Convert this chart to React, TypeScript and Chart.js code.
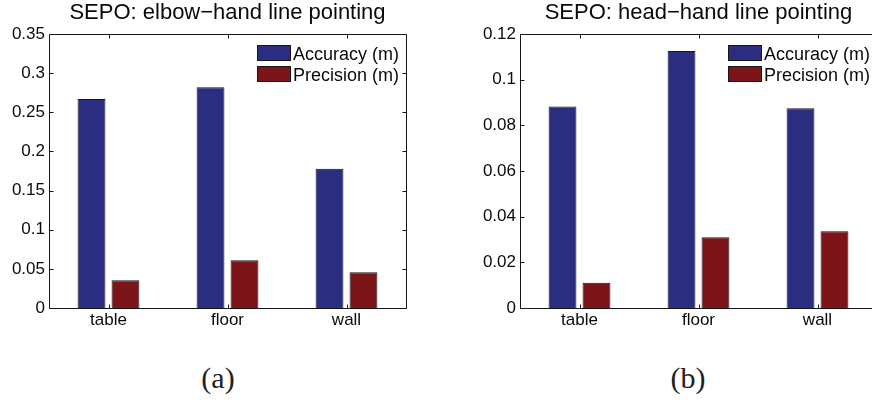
import { useEffect, useRef } from "react";
import { Chart, registerables } from "chart.js";

Chart.register(...registerables);

// Categories and series shared by both panels
const categories = ["table", "floor", "wall"];
const seriesNames = ["Accuracy (m)", "Precision (m)"];

// Panel (a): elbow-hand line pointing
const elbowTitle = "SEPO: elbow\u2212hand line pointing";
const elbowAccuracy = [0.267, 0.282, 0.178];
const elbowPrecision = [0.0355, 0.0609, 0.0456];
const elbowTicks = [0, 0.05, 0.1, 0.15, 0.2, 0.25, 0.3, 0.35];

// Panel (b): head-hand line pointing
const headTitle = "SEPO: head\u2212hand line pointing";
const headAccuracy = [0.0882, 0.1126, 0.0875];
const headPrecision = [0.0111, 0.031, 0.0336];
const headTicks = [0, 0.02, 0.04, 0.06, 0.08, 0.1, 0.12];

const BLUE = "#2b2d80";
const RED = "#7c1517";
const EDGE = "#161616";
const INK = "#0a0a0a";
const SANS = "'Liberation Sans', Arial, Helvetica, sans-serif";

// Boxed axes with inward ticks on all four sides, plus an in-axes legend
const framePlugin = {
  id: "matlabFrame",
  afterDatasetsDraw(chart: any) {
    const { ctx, chartArea: a, scales } = chart;
    const L = Math.round(a.left) + 0.5;
    const R = Math.round(a.right) + 0.5;
    const T = Math.round(a.top) + 0.5;
    const B = Math.round(a.bottom) + 0.5;
    const tick = 4;
    ctx.save();
    ctx.strokeStyle = EDGE;
    ctx.lineWidth = 1;
    ctx.beginPath();
    ctx.rect(L, T, R - L, B - T);
    scales.y.ticks.forEach((_t: any, i: number) => {
      const y = Math.round(scales.y.getPixelForTick(i)) + 0.5;
      ctx.moveTo(L, y);
      ctx.lineTo(L + tick, y);
      ctx.moveTo(R, y);
      ctx.lineTo(R - tick, y);
    });
    scales.x.ticks.forEach((_t: any, i: number) => {
      const x = Math.round(scales.x.getPixelForTick(i)) + 0.5;
      ctx.moveTo(x, B);
      ctx.lineTo(x, B - tick);
      ctx.moveTo(x, T);
      ctx.lineTo(x, T + tick);
    });
    ctx.stroke();

    // legend entries
    ctx.font = `18px ${SANS}`;
    ctx.textAlign = "left";
    ctx.textBaseline = "alphabetic";
    chart.data.datasets.forEach((ds: any, i: number) => {
      const px = Math.round(a.left) + 208;
      const py = Math.round(a.top) + 11 + i * 21;
      ctx.fillStyle = ds.backgroundColor;
      ctx.fillRect(px, py, 33, 15);
      ctx.strokeStyle = EDGE;
      ctx.strokeRect(px + 0.5, py + 0.5, 33, 15);
      ctx.fillStyle = INK;
      ctx.fillText(ds.label, px + 36, py + 15);
    });
    ctx.restore();
  },
};

function makeConfig(
  title: string,
  acc: number[],
  prec: number[],
  ticks: number[],
  axisWidth: number,
  rightPad: number
): any {
  const common = {
    borderColor: EDGE,
    borderWidth: 1,
    categoryPercentage: 0.571,
    barPercentage: 0.82,
  };
  return {
    type: "bar",
    data: {
      labels: categories,
      datasets: [
        { label: seriesNames[0], data: acc, backgroundColor: BLUE, ...common },
        { label: seriesNames[1], data: prec, backgroundColor: RED, ...common },
      ],
    },
    options: {
      responsive: false,
      animation: false,
      events: [],
      layout: { padding: { left: 0, right: rightPad, top: 0, bottom: 0 } },
      plugins: {
        legend: { display: false },
        tooltip: { enabled: false },
        title: {
          display: true,
          text: title,
          fullSize: false,
          color: INK,
          font: { family: SANS, size: 22, weight: "normal" },
          padding: { top: 0, bottom: 7.6 },
        },
      },
      scales: {
        x: {
          grid: { display: false, drawTicks: false },
          border: { display: false },
          ticks: { color: INK, font: { family: SANS, size: 17 }, padding: 2, maxRotation: 0 },
          afterFit: (s: any) => {
            s.height = 32;
          },
        },
        y: {
          min: 0,
          max: ticks[ticks.length - 1],
          grid: { display: false, drawTicks: false },
          border: { display: false },
          ticks: {
            color: INK,
            font: { family: SANS, size: 17 },
            padding: 4,
            callback: (v: number) => String(v),
          },
          afterBuildTicks: (s: any) => {
            s.ticks = ticks.map((value) => ({ value }));
          },
          afterFit: (s: any) => {
            s.width = axisWidth;
          },
        },
      },
    },
    plugins: [framePlugin],
  };
}

function Panel(props: { config: any; width: number; height: number }) {
  const ref = useRef<HTMLCanvasElement | null>(null);
  useEffect(() => {
    if (!ref.current) return;
    const chart = new Chart(ref.current, props.config);
    return () => chart.destroy();
  }, []);
  return (
    <canvas
      ref={ref}
      width={props.width}
      height={props.height}
      style={{ width: props.width, height: props.height, display: "block" }}
    />
  );
}

const captionStyle: any = {
  position: "absolute",
  top: 363,
  width: 100,
  textAlign: "center",
  fontFamily: "'Liberation Serif', 'Times New Roman', serif",
  fontSize: 30,
  lineHeight: "30px",
  color: "#222",
};

export default function App() {
  const configA = makeConfig(elbowTitle, elbowAccuracy, elbowPrecision, elbowTicks, 49, 30);
  const configB = makeConfig(headTitle, headAccuracy, headPrecision, headTicks, 84, 19);
  return (
    <div
      style={{
        position: "fixed",
        left: 0,
        top: 0,
        width: 872,
        height: 400,
        background: "#fff",
        overflow: "hidden",
      }}
    >
      <div style={{ position: "absolute", left: 0, top: 0, width: 436, height: 340 }}>
        <Panel config={configA} width={436} height={340} />
      </div>
      <div style={{ position: "absolute", left: 436, top: 0, width: 436, height: 340, overflow: "hidden" }}>
        <Panel config={configB} width={460} height={340} />
      </div>
      <div style={{ ...captionStyle, left: 168 }}>(a)</div>
      <div style={{ ...captionStyle, left: 638 }}>(b)</div>
    </div>
  );
}
